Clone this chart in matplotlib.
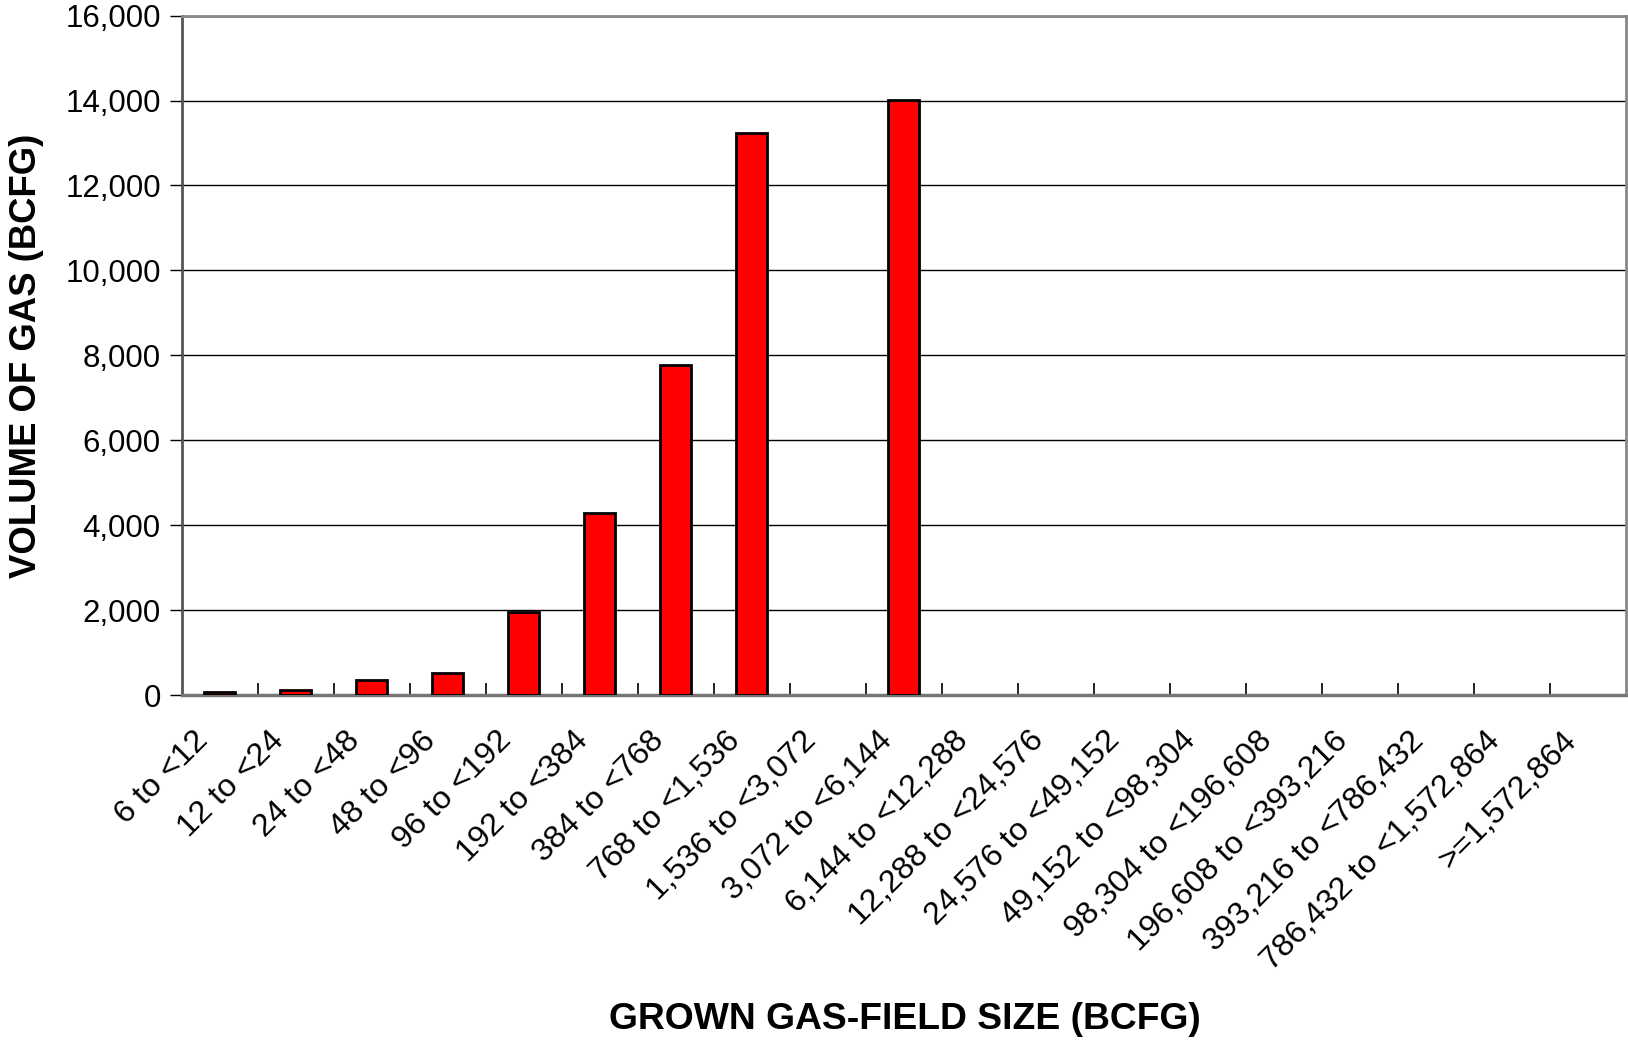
import numpy as np
import matplotlib.pyplot as plt
import matplotlib.transforms as mtransforms
from matplotlib.ticker import FuncFormatter, FixedLocator

plt.rcParams['font.family'] = ['Liberation Sans', 'DejaVu Sans']

# field size classes (BCFG)
size_classes = ['6 to <12', '12 to <24', '24 to <48', '48 to <96', '96 to <192',
                '192 to <384', '384 to <768', '768 to <1,536', '1,536 to <3,072',
                '3,072 to <6,144', '6,144 to <12,288', '12,288 to <24,576',
                '24,576 to <49,152', '49,152 to <98,304', '98,304 to <196,608',
                '196,608 to <393,216', '393,216 to <786,432',
                '786,432 to <1,572,864', '>=1,572,864']
gas_volume = [80, 120, 350, 510, 1950, 4290, 7770, 13240, 0, 14020,
              0, 0, 0, 0, 0, 0, 0, 0, 0]

fig = plt.figure(figsize=(16.28, 10.4), dpi=100)
ax = fig.add_axes([0.1116, 0.3317, 0.8872, 0.6533])

x = np.arange(len(size_classes))
ax.set_axisbelow(True)
ax.yaxis.grid(True, color='black', linewidth=1)
edges = ['black' if v > 0 else 'none' for v in gas_volume]
ax.bar(x, gas_volume, width=0.41, color='#ff0000', edgecolor=edges, linewidth=2, zorder=3)

ax.set_xlim(-0.5, len(size_classes) - 0.5)
ax.set_ylim(0, 16000)
ax.set_yticks(np.arange(0, 16001, 2000))
ax.yaxis.set_major_formatter(FuncFormatter(lambda v, p: f'{int(v):,}'))
ax.tick_params(axis='y', labelsize=22.5, length=9, width=1, direction='out', pad=6)

ax.set_xticks(x)
ax.set_xticklabels(size_classes, rotation=45, ha='right', rotation_mode='anchor', fontsize=23.2)
ax.tick_params(axis='x', which='major', length=0, pad=22)
shift = mtransforms.ScaledTranslation(-0.27, 0, fig.dpi_scale_trans)
for lbl in ax.get_xticklabels():
    lbl.set_transform(lbl.get_transform() + shift)
ax.xaxis.set_minor_locator(FixedLocator(np.arange(0.5, len(size_classes) - 0.5, 1)))
ax.tick_params(axis='x', which='minor', direction='in', length=9, width=1.2)

for side in ['top', 'right']:
    ax.spines[side].set_color('#888888')
    ax.spines[side].set_linewidth(2)
ax.spines['bottom'].set_color('#777777')
ax.spines['bottom'].set_linewidth(2.5)
ax.spines['left'].set_color('#555555')
ax.spines['left'].set_linewidth(2)

ax.set_ylabel('VOLUME OF GAS (BCFG)', fontsize=26.3, fontweight='bold', labelpad=15)
fig.text(0.5558, 0.02, 'GROWN GAS-FIELD SIZE (BCFG)', fontsize=26.8, fontweight='bold',
         ha='center', va='center')

fig.savefig('out.png', dpi=100)
